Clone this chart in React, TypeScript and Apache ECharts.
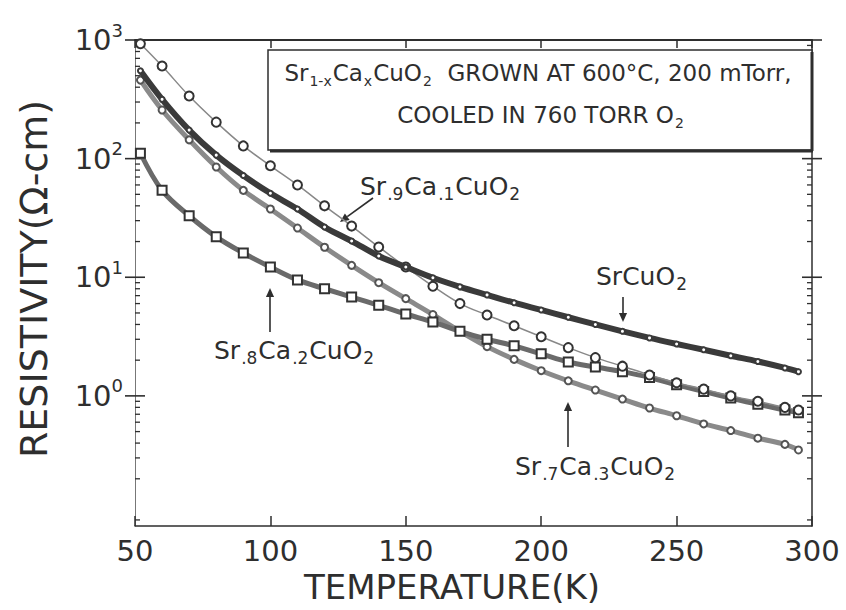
import React, { useEffect, useRef } from "react";
import * as echarts from "echarts";

// ---- data ----
const temperatureK = [52, 60, 70, 80, 90, 100, 110, 120, 130, 140, 150, 160, 170, 180, 190, 200, 210, 220, 230, 240, 250, 260, 270, 280, 290, 295];
const srCuO2 = [550, 316, 174, 107, 72, 51, 37.6, 26.5, 20.2, 15.1, 12.2, 9.9, 8.3, 7.1, 6.1, 5.3, 4.6, 4.0, 3.5, 3.08, 2.74, 2.45, 2.18, 1.95, 1.72, 1.6];
const sr9Ca1CuO2 = [930, 603, 337, 203, 128, 87, 60, 40, 27, 18, 12.2, 8.4, 6.0, 4.8, 3.9, 3.15, 2.55, 2.1, 1.78, 1.5, 1.29, 1.14, 1.0, 0.9, 0.8, 0.76];
const sr8Ca2CuO2 = [111, 54, 33, 21.9, 16, 12.2, 9.5, 8.0, 6.8, 5.8, 4.9, 4.2, 3.5, 3.0, 2.64, 2.26, 1.93, 1.75, 1.6, 1.43, 1.24, 1.09, 0.96, 0.85, 0.76, 0.72];
const sr7Ca3CuO2 = [459, 257, 144, 85, 54, 37.6, 26, 17.9, 12.6, 9.0, 6.6, 4.85, 3.5, 2.6, 2.03, 1.63, 1.34, 1.12, 0.94, 0.79, 0.68, 0.58, 0.51, 0.44, 0.39, 0.35];

const xTickValues = [50, 100, 150, 200, 250, 300];
const yMajorTicks = [1, 10, 100, 1000];
const yMinorTicks = [0.09, 0.2, 0.3, 0.4, 0.5, 0.6, 0.7, 0.8, 0.9, 2, 3, 4, 5, 6, 7, 8, 9, 20, 30, 40, 50, 60, 70, 80, 90, 200, 300, 400, 500, 600, 700, 800, 900];

const FONT = "'DejaVu Sans', Verdana, sans-serif";
const INK = "#2e2e2e";

const pairs = (ys: number[]) => temperatureK.map((t, i) => [t, ys[i]]);

function arrow(x1: number, y1: number, x2: number, y2: number, head = 9) {
  const a = Math.atan2(y2 - y1, x2 - x1);
  const w = head * 0.45;
  const bx = x2 - head * Math.cos(a);
  const by = y2 - head * Math.sin(a);
  return [
    { type: "line", shape: { x1, y1, x2: bx, y2: by }, style: { stroke: INK, lineWidth: 1.6 } },
    {
      type: "polygon",
      shape: {
        points: [
          [x2, y2],
          [bx + w * Math.sin(a), by - w * Math.cos(a)],
          [bx - w * Math.sin(a), by + w * Math.cos(a)],
        ],
      },
      style: { fill: INK },
    },
  ];
}

const annRich = {
  n: { fontSize: 25, fontFamily: FONT, color: INK },
  s: { fontSize: 17, fontFamily: FONT, color: INK, padding: [16, 1, 0, 1] },
};

function ann(x: number, y: number, text: string) {
  return {
    type: "text",
    x,
    y,
    style: { text, rich: annRich, fill: INK, align: "left", verticalAlign: "middle", textAlign: "left", textVerticalAlign: "middle" },
  };
}

export default function App() {
  const ref = useRef<HTMLDivElement>(null);
  useEffect(() => {
    if (!ref.current) return;
    const chart = echarts.init(ref.current, undefined, { renderer: "svg" });
    const tickData = [
      ...yMajorTicks.map((v) => [50, v, 1]),
      ...yMinorTicks.map((v) => [50, v, 0]),
    ];
    const boxRich = {
      n: { fontSize: 23, fontFamily: FONT, color: INK },
      s: { fontSize: 14, fontFamily: FONT, color: INK, padding: [15, 1, 0, 1] },
    };
    const option: any = {
      animation: false,
      backgroundColor: "#ffffff",
      grid: { left: 135, right: 34, top: 40, bottom: 84 },
      xAxis: [
        {
          type: "value",
          min: xTickValues[0],
          max: xTickValues[xTickValues.length - 1],
          interval: 50,
          position: "bottom",
          name: "TEMPERATURE(K)",
          nameLocation: "middle",
          nameGap: 44,
          nameTextStyle: { fontSize: 34, fontFamily: FONT, color: INK, padding: [0, 43, 0, 0] },
          axisLine: { lineStyle: { color: INK, width: 1.5 } },
          axisTick: { inside: true, length: 10, lineStyle: { color: INK, width: 1.5 } },
          axisLabel: { fontSize: 29, fontFamily: FONT, color: INK, margin: 10 },
          splitLine: { show: false },
        },
        {
          type: "value",
          min: xTickValues[0],
          max: xTickValues[xTickValues.length - 1],
          interval: 50,
          position: "top",
          axisLine: { lineStyle: { color: INK, width: 2 } },
          axisTick: { inside: true, length: 8, lineStyle: { color: INK, width: 1.5 } },
          axisLabel: { show: false },
          splitLine: { show: false },
        },
      ],
      yAxis: [
        {
          type: "log",
          logBase: 10,
          min: 0.08,
          max: 1000,
          position: "left",
          name: "RESISTIVITY(Ω-cm)",
          nameLocation: "middle",
          nameGap: 82,
          nameTextStyle: { fontSize: 38, fontFamily: FONT, color: INK, padding: [0, 0, 0, 8] },
          axisLine: { lineStyle: { color: "#777", width: 1 } },
          axisTick: { show: false },
          axisLabel: {
            margin: 12,
            color: INK,
            fontFamily: FONT,
            fontSize: 29,
            formatter: (v: number) => {
              const lg = Math.log10(v);
              const e = Math.round(lg);
              if (v < 0.99 || Math.abs(lg - e) > 1e-6) return "";
              return `{b|10}{s|${e}}`;
            },
            rich: {
              b: { fontSize: 29, fontFamily: FONT, color: INK },
              s: { fontSize: 18, fontFamily: FONT, color: INK, padding: [0, 0, 20, 0] },
            },
          },
          splitLine: { show: false },
        },
        {
          type: "log",
          logBase: 10,
          min: 0.08,
          max: 1000,
          position: "right",
          axisLine: { lineStyle: { color: INK, width: 1.5 } },
          axisTick: { show: false },
          axisLabel: { show: false },
          splitLine: { show: false },
        },
      ],
      series: [
        {
          name: "ticks",
          type: "custom",
          silent: true,
          clip: false,
          encode: { x: 0, y: 1 },
          data: tickData,
          z: 1,
          renderItem: (_p: any, api: any) => {
            const v = api.value(1);
            const major = api.value(2) === 1;
            const l = api.coord([50, v]);
            const r = api.coord([300, v]);
            const style = { stroke: INK, lineWidth: major ? 1.6 : 1.3 };
            return {
              type: "group",
              children: [
                { type: "line", shape: { x1: l[0] - (major ? 10 : 0), y1: l[1], x2: l[0] + (major ? 10 : 5), y2: l[1] }, style },
                { type: "line", shape: { x1: r[0] - (major ? 10 : 5), y1: r[1], x2: r[0] + (major ? 10 : 0), y2: r[1] }, style },
              ],
            };
          },
        },
        {
          name: "Sr.7Ca.3CuO2",
          type: "line",
          data: pairs(sr7Ca3CuO2),
          smooth: 0.35,
          symbol: "emptyCircle",
          symbolSize: 7,
          lineStyle: { width: 5, color: "#8a8a8a" },
          itemStyle: { color: "#555", borderWidth: 1.3 },
          z: 2,
        },
        {
          name: "Sr.8Ca.2CuO2",
          type: "line",
          data: pairs(sr8Ca2CuO2),
          smooth: 0.35,
          symbol: "emptyRect",
          symbolSize: 9,
          lineStyle: { width: 5, color: "#6a6a6a" },
          itemStyle: { color: "#333", borderWidth: 1.5 },
          z: 3,
        },
        {
          name: "Sr.9Ca.1CuO2",
          type: "line",
          data: pairs(sr9Ca1CuO2),
          smooth: 0.35,
          symbol: "emptyCircle",
          symbolSize: 9,
          lineStyle: { width: 1.5, color: "#888" },
          itemStyle: { color: "#333", borderWidth: 1.6 },
          z: 4,
        },
        {
          name: "SrCuO2",
          type: "line",
          data: pairs(srCuO2),
          smooth: 0.35,
          symbol: "emptyCircle",
          symbolSize: 5,
          lineStyle: { width: 6, color: "#3a3a3a" },
          itemStyle: { color: "#3a3a3a", borderWidth: 1 },
          z: 5,
        },
      ],
      graphic: [
        {
          type: "rect",
          shape: { x: 268, y: 50, width: 544, height: 100 },
          style: { fill: "#ffffff", stroke: INK, lineWidth: 1.5 },
          z: 50,
        },
        { type: "line", shape: { x1: 270, y1: 151, x2: 813, y2: 151 }, style: { stroke: INK, lineWidth: 3 }, z: 51 },
        { type: "line", shape: { x1: 812, y1: 52, x2: 812, y2: 151 }, style: { stroke: INK, lineWidth: 3 }, z: 51 },
        {
          type: "text",
          x: 538,
          y: 73,
          z: 52,
          style: {
            text: "{n|Sr}{s|1-x}{n|Ca}{s|x}{n|CuO}{s|2}{n|  GROWN AT 600°C, 200 mTorr,}",
            rich: boxRich,
            fill: INK,
            align: "center",
            verticalAlign: "middle",
            textAlign: "center",
            textVerticalAlign: "middle",
          },
        },
        {
          type: "text",
          x: 541,
          y: 115,
          z: 52,
          style: {
            text: "{n|COOLED IN 760 TORR O}{s|2}",
            rich: boxRich,
            fill: INK,
            align: "center",
            verticalAlign: "middle",
            textAlign: "center",
            textVerticalAlign: "middle",
          },
        },
        ann(360, 186, "{n|Sr}{s|.9}{n|Ca}{s|.1}{n|CuO}{s|2}"),
        ...arrow(373, 198, 340, 222),
        ann(596, 276, "{n|SrCuO}{s|2}"),
        ...arrow(623, 297, 623, 322),
        ann(214, 350, "{n|Sr}{s|.8}{n|Ca}{s|.2}{n|CuO}{s|2}"),
        ...arrow(270, 332, 270, 288),
        ann(515, 466, "{n|Sr}{s|.7}{n|Ca}{s|.3}{n|CuO}{s|2}"),
        ...arrow(568, 447, 568, 402),
      ],
    };
    chart.setOption(option);
    return () => chart.dispose();
  }, []);
  return <div ref={ref} style={{ position: "fixed", left: 0, top: 0, width: 846, height: 610 }} />;
}
